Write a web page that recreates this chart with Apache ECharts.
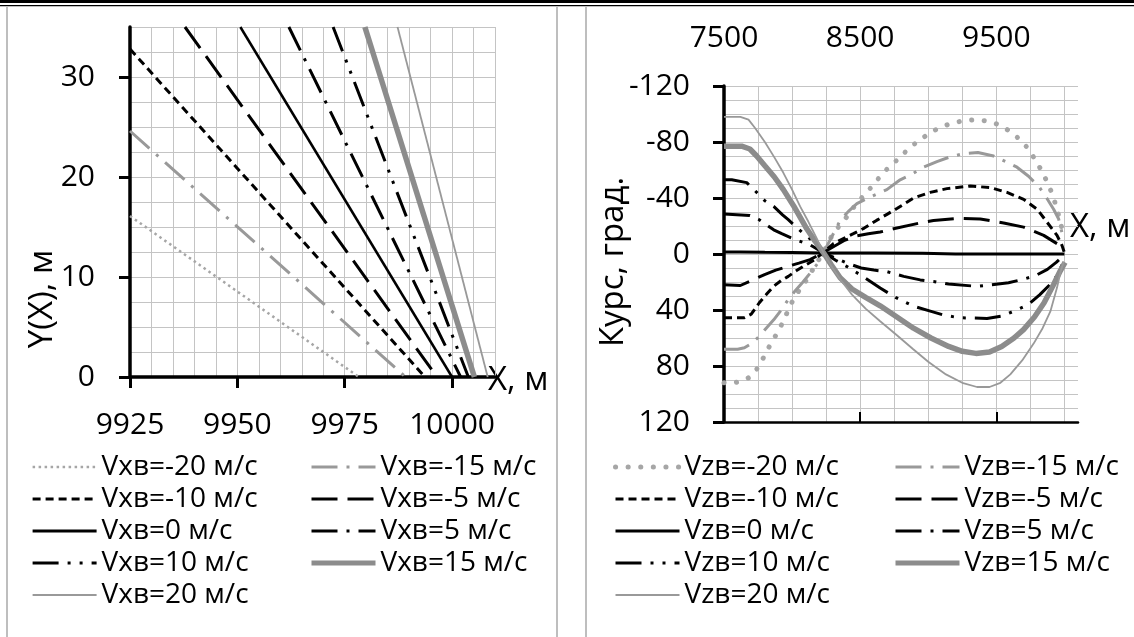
<!DOCTYPE html>
<html><head><meta charset="utf-8">
<script src="https://cdn.jsdelivr.net/npm/echarts@6/dist/echarts.min.js"></script>
<style>html,body{margin:0;padding:0;background:#fff}#c{width:1134px;height:637px}</style>
</head><body><div id="c"></div>
<script>
const FONT = '"Open Sans", sans-serif';

// ---------- left chart: Y(X) ----------
const leftXTicks = [9925, 9950, 9975, 10000];
const leftYTicks = [0, 10, 20, 30];
const speeds = [-20, -15, -10, -5, 0, 5, 10, 15, 20];
const yx_m20 = [[9925, 16.1], [9978.3, 0]];
const yx_m15 = [[9925, 24.6], [9989.2, 0]];
const yx_m10 = [[9925, 32.8], [9993.7, 0]];
const yx_m5  = [[9937.8, 35], [9996.5, 0]];
const yx_0   = [[9950.7, 35], [10000, 0]];
const yx_5   = [[9962, 35], [10002, 0]];
const yx_10  = [[9972.3, 35], [10003.8, 0]];
const yx_15  = [[9979.7, 35], [10005.2, 0]];
const yx_20  = [[9987.3, 35], [10008.3, 0]];
const leftData = [yx_m20, yx_m15, yx_m10, yx_m5, yx_0, yx_5, yx_10, yx_15, yx_20];

// ---------- right chart: Курс(X) ----------
const rightXTicks = [7500, 8500, 9500];
const rightXMarks = [8500, 9500];
const rightYTicks = [-120, -80, -40, 0, 40, 80, 120];
const kz_m20 = [[7500,92],[7550,92.5],[7620,91],[7690,88],[7760,80],[7800,72],[7850,63],[7900,55],[7945,46],[7985,37],[8030,29],[8090,21],[8140,13],[8190,5],[8230,-1],[8280,-11],[8330,-18],[8390,-25],[8450,-33],[8510,-40],[8575,-47],[8635,-54],[8700,-61],[8770,-67],[8843,-74],[8917,-80],[8990,-85],[9076,-90],[9162,-93],[9248,-95],[9346,-96],[9432,-95],[9517,-92.5],[9603,-87.5],[9676,-81.5],[9737,-75],[9787,-67],[9836,-59],[9880,-50],[9915,-42],[9945,-32],[9971,-23],[9990,-14]];
const kz_m15 = [[7500,68],[7600,68],[7650,67],[7700,64],[7757,59],[7810,53],[7865,47],[7920,40],[7972,32.5],[8025,26],[8080,20],[8130,14],[8186,7],[8230,-1],[8290,-12],[8353,-24],[8420,-31],[8476,-36],[8580,-41],[8696,-46],[8794,-53],[8880,-57],[8966,-62],[9064,-66],[9150,-69],[9248,-71.5],[9365,-72.5],[9480,-70],[9570,-66],[9652,-62],[9737,-55.5],[9818,-47.5],[9870,-40],[9921,-32],[9958,-25],[9990,-12]];
const kz_m10 = [[7500,45.5],[7650,45.5],[7700,43],[7758,35],[7810,29],[7865,23],[7920,19],[7972,16],[8030,12],[8079,9],[8150,5],[8230,-1],[8304,-7.5],[8377,-11],[8450,-14.5],[8530,-18.5],[8620,-24],[8700,-28.5],[8770,-32.5],[8892,-40],[9015,-44],[9137,-46.7],[9309,-48.6],[9456,-47.4],[9579,-44],[9701,-39],[9800,-32],[9873,-22.7],[9946,-13.3],[9983,-6],[10000,-1]];
const kz_m5  = [[7500,22],[7620,22.5],[7700,19],[7798,14.7],[7880,11.5],[7972,8.8],[8050,6.5],[8132,4],[8230,-1],[8300,-5],[8380,-9.5],[8476,-13],[8560,-14.5],[8647,-15.7],[8745,-18],[8941,-22.2],[9039,-23.9],[9235,-25.5],[9382,-25],[9554,-22.2],[9701,-19.2],[9848,-13.3],[9946,-7.4],[9990,-2.7]];
const kz_0   = [[7500,-1.5],[7620,-1.5],[7800,-1.2],[8000,-1],[8230,-0.8],[8600,-0.8],[8960,-0.5],[9200,0],[10000,0]];
const kz_5   = [[7500,-28.5],[7690,-27.5],[7758,-24.5],[7865,-17.3],[7924,-14.5],[8025,-10.2],[8132,-6.5],[8230,-1],[8320,3],[8400,6.4],[8507,10],[8600,11.5],[8696,12.6],[8820,16],[8941,18.5],[9039,19.6],[9149,21.5],[9358,23.1],[9468,22],[9590,20.5],[9700,18],[9787,15.5],[9875,11],[9940,6],[9990,1.5]];
const kz_10  = [[7500,-53],[7557,-53],[7667,-51],[7740,-44],[7800,-38],[7865,-34],[7930,-28],[7972,-24.5],[8079,-15],[8186,-6.7],[8230,-1],[8320,4.5],[8400,8.8],[8520,16],[8647,24.3],[8760,31],[8892,37.3],[9015,40.8],[9113,43.6],[9223,45.5],[9432,46],[9542,44.3],[9640,40.4],[9737,36],[9820,29],[9897,21.5],[9950,15],[9990,6]];
const kz_15  = [[7500,-77],[7630,-77],[7690,-75],[7740,-70],[7800,-63],[7870,-55],[7936,-46],[8020,-33],[8108,-18],[8170,-9],[8230,-1],[8290,8],[8353,17],[8440,25],[8540,31],[8647,37],[8770,45],[8892,53],[9020,60],[9150,66],[9250,69.5],[9350,71],[9450,70],[9540,66],[9630,60],[9700,54],[9780,45],[9850,35],[9920,22],[9970,12],[10005,6]];
const kz_20  = [[7500,-98],[7620,-98],[7680,-96],[7728,-90],[7800,-80],[7870,-69],[7936,-58],[8000,-46],[8059,-34],[8120,-23],[8182,-11],[8230,-1],[8290,9],[8353,18],[8440,29],[8540,39],[8647,48],[8770,58],[8890,68],[9000,77],[9130,86],[9250,92],[9358,95],[9450,95],[9530,92],[9603,86],[9690,76],[9774,64],[9840,53],[9897,41],[9946,24],[9971,13],[9995,5.5]];
const rightData = [kz_m20, kz_m15, kz_m10, kz_m5, kz_0, kz_5, kz_10, kz_15, kz_20];

// ---------- styles ----------
const DD = [26, 9, 3, 9];          // — · -
const DDD = [26, 9, 3, 9, 3, 9];   // — · ·
const leftStyles = [
  {color:'#a6a6a6', width:2.5, type:[2.5,3.5]},
  {color:'#999999', width:3,   type:DD},
  {color:'#000000', width:3,   type:[8,5]},
  {color:'#000000', width:3,   type:[26,10]},
  {color:'#000000', width:2.5, type:'solid'},
  {color:'#000000', width:3,   type:DD},
  {color:'#000000', width:3,   type:DDD},
  {color:'#8c8c8c', width:5.5, type:'solid'},
  {color:'#999999', width:1.8, type:'solid'}
];
const rightStyles = [
  {color:'#a6a6a6', width:5,   type:[0.1,12.5], cap:'round'},
  {color:'#999999', width:3,   type:DD},
  {color:'#000000', width:3,   type:[8,5]},
  {color:'#000000', width:3,   type:[26,10]},
  {color:'#000000', width:3,   type:'solid'},
  {color:'#000000', width:3,   type:DD},
  {color:'#000000', width:3,   type:DDD},
  {color:'#8c8c8c', width:5.5, type:'solid'},
  {color:'#999999', width:1.8, type:'solid'}
];
const leftNames = speeds.map(s => 'Vxв=' + s + ' м/с');
const rightNames = speeds.map(s => 'Vzв=' + s + ' м/с');

const GRIDLINE = {show:true, lineStyle:{color:'#c4c4c4', width:1}};
const noShow = {show:false};
const fmt = v => String(v);
const tickFont = {fontFamily:FONT, fontSize:30, color:'#000', formatter:fmt};

function legendCol(names, styles, idx, left) {
  return {
    orient:'vertical', left:left, top:452, itemWidth:64, itemHeight:14, itemGap:2,
    selectedMode:false, padding:0,
    itemStyle:{opacity:0, borderWidth:0},
    textStyle:{fontFamily:FONT, fontSize:28, color:'#000', lineHeight:30},
    data: idx.map(i => ({name:names[i], itemStyle:{opacity:0, borderWidth:0},
                         lineStyle:{width:Math.min(Math.max(styles[i].width, styles[i].color === '#000000' ? 3.2 : 0), 5)}}))
  };
}

const series = [];
speeds.forEach((s, i) => {
  series.push({type:'line', name:leftNames[i], xAxisIndex:0, yAxisIndex:0, data:leftData[i],
    symbol:'none', clip:true, color:leftStyles[i].color, lineStyle:leftStyles[i], z:3});
});
speeds.forEach((s, i) => {
  series.push({type:'line', name:rightNames[i], xAxisIndex:2, yAxisIndex:2, data:rightData[i],
    symbol:'none', clip:true, color:rightStyles[i].color, lineStyle:rightStyles[i], z:3});
});

const option = {
  animation:false,
  backgroundColor:'#fff',
  grid:[
    {left:130, top:27, width:365, height:350},
    {left:724, top:86, width:354, height:336}
  ],
  xAxis:[
    {gridIndex:0, type:'value', position:'bottom', min:9925, max:10010, interval:5,
     axisLine:noShow, axisTick:noShow, axisLabel:noShow, splitLine:GRIDLINE},
    {gridIndex:0, type:'value', position:'bottom', min:9925, max:10010, interval:5,
     axisLine:{show:true, onZero:false, lineStyle:{color:'#000', width:3.5}},
     axisTick:{show:true, customValues:leftXTicks, length:11, lineStyle:{color:'#000', width:3}},
     axisLabel:Object.assign({customValues:leftXTicks, margin:33}, tickFont),
     splitLine:noShow},
    {gridIndex:1, type:'value', position:'top', min:7500, max:10100, interval:250,
     axisLine:noShow, axisTick:noShow, axisLabel:noShow,
     splitLine:Object.assign({showMaxLine:false}, GRIDLINE)},
    {gridIndex:1, type:'value', position:'top', min:7500, max:10100, interval:250,
     axisLine:noShow, axisTick:noShow,
     axisLabel:Object.assign({customValues:rightXTicks, margin:33}, tickFont),
     splitLine:noShow},
    {gridIndex:1, type:'value', position:'bottom', min:7500, max:10100, interval:250,
     axisLine:{show:true, onZero:true, lineStyle:{color:'#000', width:2.5}},
     axisTick:{show:true, inside:true, customValues:rightXMarks, length:10, lineStyle:{color:'#000', width:2}},
     axisLabel:noShow, splitLine:noShow}
  ],
  yAxis:[
    {gridIndex:0, type:'value', min:0, max:35, interval:2.5,
     axisLine:noShow, axisTick:noShow, axisLabel:noShow, splitLine:GRIDLINE},
    {gridIndex:0, type:'value', position:'left', min:0, max:35, interval:2.5,
     axisLine:{show:true, onZero:false, lineStyle:{color:'#000', width:3.5}},
     axisTick:{show:true, customValues:leftYTicks, length:11, lineStyle:{color:'#000', width:3}},
     axisLabel:Object.assign({customValues:leftYTicks, margin:35}, tickFont),
     splitLine:noShow},
    {gridIndex:1, type:'value', inverse:true, min:-120, max:120, interval:10,
     axisLine:noShow, axisTick:noShow, axisLabel:noShow, splitLine:GRIDLINE},
    {gridIndex:1, type:'value', position:'left', inverse:true, min:-120, max:120, interval:10,
     axisLine:{show:true, onZero:false, lineStyle:{color:'#000', width:3.5}},
     axisTick:{show:true, customValues:rightYTicks, length:11, lineStyle:{color:'#000', width:3}},
     axisLabel:Object.assign({customValues:rightYTicks, margin:34}, tickFont),
     splitLine:noShow}
  ],
  legend:[
    legendCol(leftNames, leftStyles, [0,2,4,6,8], 31),
    legendCol(leftNames, leftStyles, [1,3,5,7], 309),
    legendCol(rightNames, rightStyles, [0,2,4,6,8], 613),
    legendCol(rightNames, rightStyles, [1,3,5,7], 893)
  ],
  graphic:[
    {type:'rect', silent:true, shape:{x:0, y:0, width:1134, height:3}, style:{fill:'#000'}},
    {type:'rect', silent:true, shape:{x:0, y:5, width:1134, height:1.2}, style:{fill:'#000'}},
    {type:'line', silent:true, shape:{x1:7, y1:7, x2:7, y2:637}, style:{stroke:'#a8a8a8', lineWidth:1.5}},
    {type:'line', silent:true, shape:{x1:557, y1:7, x2:557, y2:637}, style:{stroke:'#a8a8a8', lineWidth:1.5}},
    {type:'line', silent:true, shape:{x1:586, y1:7, x2:586, y2:637}, style:{stroke:'#a8a8a8', lineWidth:1.5}},
    {type:'text', silent:true, x:43, y:299, rotation:Math.PI/2,
     style:{text:'Y(X), м', font:'33px ' + FONT, fill:'#000', align:'center', verticalAlign:'middle'}},
    {type:'text', silent:true, x:488, y:381,
     style:{text:'X, м', font:'33px ' + FONT, fill:'#000', align:'left', verticalAlign:'middle'}},
    {type:'text', silent:true, x:614, y:262, rotation:Math.PI/2,
     style:{text:'Курс, град.', font:'33px ' + FONT, fill:'#000', align:'center', verticalAlign:'middle'}},
    {type:'text', silent:true, x:1070, y:228,
     style:{text:'X, м', font:'33px ' + FONT, fill:'#000', align:'left', verticalAlign:'middle'}}
  ],
  series:series
};
const chart = echarts.init(document.getElementById('c'), null, {renderer:'canvas'});
chart.setOption(option);
</script>
</body></html>
